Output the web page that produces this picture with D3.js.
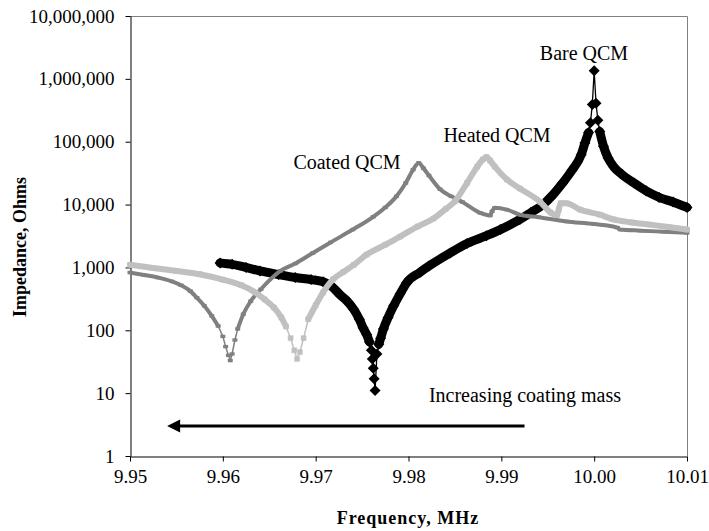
<!DOCTYPE html>
<html><head><meta charset="utf-8">
<script src="https://cdn.jsdelivr.net/npm/d3@7"></script>
<style>body{margin:0;background:#fff}</style>
</head><body>
<svg id="c" width="709" height="531"></svg>
<script>
// ---- data ----
const xTicks = [9.95, 9.96, 9.97, 9.98, 9.99, 10.00, 10.01];
const yTicks = [1, 10, 100, 1000, 10000, 100000, 1000000, 10000000];

const bareFreq = [9.9597, 9.9610, 9.9625, 9.9640, 9.9660, 9.9678, 9.9695, 9.9708, 9.9718, 9.9726, 9.9735, 9.9741, 9.9747, 9.9751, 9.9755, 9.9758, 9.9760, 9.9761, 9.9762, 9.9763, 9.9764, 9.9766, 9.9768, 9.9770, 9.9773, 9.9778, 9.9784, 9.9791, 9.9798, 9.9812, 9.9822, 9.9845, 9.9863, 9.9884, 9.9899, 9.9920, 9.9932, 9.9945, 9.9955, 9.9966, 9.9976, 9.9986, 9.9990, 9.9994, 9.9996, 9.9998, 10.0000, 10.0002, 10.0004, 10.0006, 10.0010, 10.0015, 10.0021, 10.0030, 10.0043, 10.0056, 10.0070, 10.0085, 10.0100];
const bareZ = [1180, 1120, 1000, 880, 770, 690, 640, 590, 490, 370, 280, 215, 150, 110, 85, 65, 48, 35, 25, 17, 11, 42, 60, 75, 105, 160, 245, 380, 570, 830, 1050, 1700, 2400, 3200, 4000, 5800, 7500, 10000, 14000, 22000, 35000, 62000, 95000, 140000, 200000, 390000, 1350000, 410000, 220000, 145000, 85000, 55000, 40000, 30000, 22000, 16500, 13000, 11000, 9000];

const coatedFreq = [9.9500, 9.9515, 9.9530, 9.9545, 9.9555, 9.9565, 9.9572, 9.9580, 9.9588, 9.9595, 9.9600, 9.9603, 9.9606, 9.9608, 9.9610, 9.9613, 9.9616, 9.9622, 9.9630, 9.9641, 9.9662, 9.9678, 9.9697, 9.9716, 9.9740, 9.9762, 9.9775, 9.9787, 9.9797, 9.9805, 9.9811, 9.9816, 9.9822, 9.9834, 9.9846, 9.9858, 9.9877, 9.9888, 9.9890, 9.9893, 9.9906, 9.9920, 9.9940, 9.9970, 10.0000, 10.0025, 10.0028, 10.0050, 10.0075, 10.0100];
const coatedZ = [830, 760, 690, 600, 520, 420, 330, 245, 170, 117, 80, 55, 40, 33, 42, 70, 105, 180, 290, 450, 880, 1150, 1700, 2500, 4000, 6400, 9000, 13500, 22000, 36000, 46000, 38000, 29000, 17500, 13500, 11000, 7400, 6700, 7800, 8900, 8300, 6900, 6300, 5400, 4900, 4300, 4000, 3850, 3700, 3550];

const heatedFreq = [9.9500, 9.9525, 9.9550, 9.9575, 9.9600, 9.9620, 9.9635, 9.9645, 9.9655, 9.9663, 9.9668, 9.9673, 9.9677, 9.9680, 9.9683, 9.9687, 9.9692, 9.9700, 9.9708, 9.9719, 9.9730, 9.9741, 9.9755, 9.9775, 9.9791, 9.9810, 9.9827, 9.9840, 9.9850, 9.9863, 9.9874, 9.9880, 9.9884, 9.9888, 9.9893, 9.9906, 9.9920, 9.9942, 9.9953, 9.9960, 9.9962, 9.9964, 9.9970, 9.9985, 10.0006, 10.0021, 10.0040, 10.0060, 10.0080, 10.0100];
const heatedZ = [1100, 980, 880, 780, 640, 520, 400, 310, 230, 160, 115, 75, 48, 35, 45, 75, 150, 250, 400, 650, 850, 1100, 1600, 2300, 3100, 4500, 6000, 8500, 11300, 22000, 40000, 52000, 57000, 50000, 40000, 25000, 18000, 11000, 7500, 6800, 8500, 10500, 10500, 8300, 6900, 5800, 5200, 4800, 4400, 4000];

const labels = [
  {text: "Bare QCM", x: 584, y: 60},
  {text: "Heated QCM", x: 497, y: 142},
  {text: "Coated QCM", x: 347, y: 169},
  {text: "Increasing coating mass", x: 525, y: 402}
];
const arrowFrom = [9.9925, 3], arrowTo = [9.9540, 3];

// ---- layout ----
const W = 709, H = 531, L = 130, R = 687, T = 16, B = 456;
const FONT = "'Liberation Serif','Times New Roman',serif";
const svg = d3.select('#c');
svg.append('rect').attr('width', W).attr('height', H).attr('fill', '#fff');

const x = d3.scaleLinear().domain([9.95, 10.01]).range([L, R]);
const y = d3.scaleLog().domain([1, 1e7]).range([B, T]);

// frame (top/right gray)
svg.append('path').attr('d', `M${L},${T + 0.5}H${R + 0.5}V${B}`)
  .attr('fill', 'none').attr('stroke', '#808080').attr('stroke-width', 1);

// axes
const yAxis = svg.append('g').attr('transform', `translate(${L + 0.5},0)`)
  .call(d3.axisLeft(y).tickValues(yTicks).tickFormat(d3.format(',')).tickSize(5).tickSizeOuter(0).tickPadding(11));
const xAxis = svg.append('g').attr('transform', `translate(0,${B + 0.5})`)
  .call(d3.axisBottom(x).tickValues(xTicks).tickFormat(d3.format('.2f')).tickSize(5).tickSizeOuter(0).tickPadding(8));
[yAxis, xAxis].forEach(g => {
  g.selectAll('path,line').attr('stroke', '#000').attr('stroke-width', 1);
  g.selectAll('text').attr('font-family', FONT).attr('font-size', 19).attr('fill', '#000');
});

// axis titles
svg.append('text').attr('x', 408).attr('y', 524).attr('text-anchor', 'middle')
  .attr('font-family', FONT).attr('font-weight', 'bold').attr('font-size', 18)
  .attr('letter-spacing', 1).text('Frequency, MHz');
svg.append('text').attr('transform', 'translate(26,247) rotate(-90)').attr('text-anchor', 'middle')
  .attr('font-family', FONT).attr('font-weight', 'bold').attr('font-size', 18)
  .text('Impedance, Ohms');

// ---- series ----
function series(freq, z, opt) {
  const pts = freq.map((f, i) => ({f, v: z[i]}));
  const g = svg.append('g');
  const band = d3.line().x(d => x(d.f)).y(d => y(d.v))
    .defined(d => d.v >= opt.bandMin && d.v <= opt.bandMax).curve(d3.curveMonotoneX);
  g.append('path').attr('d', band(pts)).attr('fill', 'none')
    .attr('stroke', opt.color).attr('stroke-width', opt.bandW)
    .attr('stroke-linejoin', 'round').attr('stroke-linecap', 'round');
  const thin = d3.line().x(d => x(d.f)).y(d => y(d.v));
  g.append('path').attr('d', thin(pts)).attr('fill', 'none')
    .attr('stroke', opt.color).attr('stroke-width', opt.thinW);
  g.selectAll('path.m').data(pts).join('path').attr('class', 'm')
    .attr('transform', d => `translate(${x(d.f)},${y(d.v)})`)
    .attr('d', opt.marker).attr('fill', opt.mfill).attr('stroke', opt.mstroke || 'none')
    .attr('stroke-width', opt.mstrokeW || 0);
}
series(bareFreq, bareZ, {color: '#000', bandW: 9, bandMin: 60, bandMax: 150000, thinW: 1.3,
  marker: 'M0,-5.5L5.5,0L0,5.5L-5.5,0Z', mfill: '#000'});
series(coatedFreq, coatedZ, {color: '#808080', bandW: 4, bandMin: 100, bandMax: 1e9, thinW: 1.5,
  marker: 'M-2.5,-1.7H2.5V1.7H-2.5Z', mfill: '#808080'});
series(heatedFreq, heatedZ, {color: '#c0c0c0', bandW: 6, bandMin: 100, bandMax: 1e9, thinW: 1.5,
  marker: 'M-2.5,-2.5H2.5V2.5H-2.5Z', mfill: '#c0c0c0', mstroke: '#c0c0c0', mstrokeW: 0.5});

// ---- annotations ----
svg.selectAll('text.lab').data(labels).join('text').attr('class', 'lab')
  .attr('x', d => d.x).attr('y', d => d.y).attr('text-anchor', 'middle')
  .attr('font-family', FONT).attr('font-size', 20).attr('fill', '#000').text(d => d.text);

const ax1 = x(arrowFrom[0]), ax2 = x(arrowTo[0]), ay = y(arrowFrom[1]);
svg.append('line').attr('x1', ax1).attr('x2', ax2 + 10).attr('y1', ay).attr('y2', ay)
  .attr('stroke', '#000').attr('stroke-width', 3);
svg.append('path').attr('d', `M${ax2},${ay}L${ax2 + 13},${ay - 6.5}L${ax2 + 13},${ay + 6.5}Z`).attr('fill', '#000');
</script>
</body></html>
